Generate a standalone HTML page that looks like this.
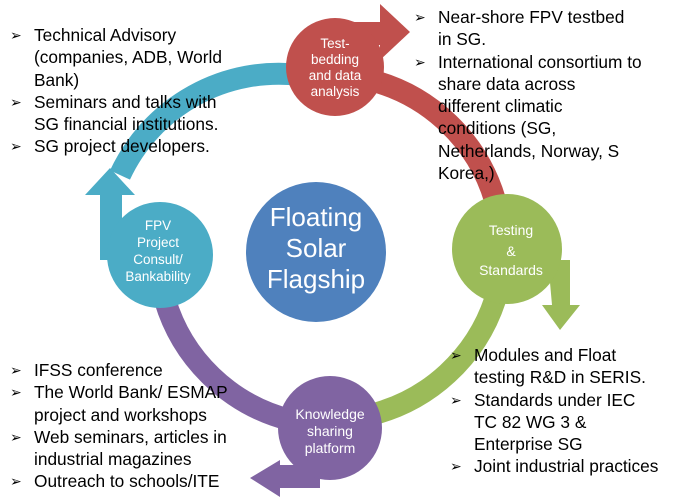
<!DOCTYPE html>
<html><head><style>
body{margin:0;width:677px;height:497px;background:#fff;overflow:hidden;position:relative;font-family:"Liberation Sans",sans-serif}
.t{position:absolute;font-size:17.3px;line-height:22.3px;color:#000;white-space:nowrap}
.t div{padding-left:24px;position:relative}
.t div:before{content:"➢";position:absolute;left:0;font-size:14px}
</style></head><body>
<svg width="677" height="497" style="position:absolute;left:0;top:0">
<g fill="none" stroke-width="22">
<path d="M120,175 A175,175 0 0 1 300,75" stroke="#4bacc6"/>
<path d="M370,80 A175,175 0 0 1 495,200" stroke="#c0504d"/>
<path d="M495,300 A175,175 0 0 1 370,415" stroke="#9bbb59"/>
<path d="M290,420 A175,175 0 0 1 165,300" stroke="#8064a2"/>
</g>
<path d="M340,45 L340,22 L380,22 L380,4 L410,32 L380,60 L380,45 Z" fill="#c0504d"/>
<path d="M548,260 L570,260 L570,305 L580,305 L560,330 L542,305 L552,305 Z" fill="#9bbb59"/>
<path d="M320,465 L320,488 L280,488 L280,497 L250,478 L280,460 L280,465 Z" fill="#8064a2"/>
<path d="M100,260 L100,195 L85,195 L110,168 L135,195 L122,195 L122,260 Z" fill="#4bacc6"/>
<circle cx="335" cy="67" r="49" fill="#c0504d"/>
<circle cx="507" cy="249" r="55" fill="#9bbb59"/>
<circle cx="330" cy="428" r="52" fill="#8064a2"/>
<circle cx="160" cy="255" r="53" fill="#4bacc6"/>
<circle cx="316" cy="252" r="70" fill="#4f81bd"/>
<g fill="#fff" font-family="Liberation Sans,sans-serif" text-anchor="middle">
<text font-size="13.5"><tspan x="335" y="48">Test-</tspan><tspan x="335" y="64">bedding</tspan><tspan x="335" y="80">and data</tspan><tspan x="335" y="96">analysis</tspan></text>
<text font-size="14"><tspan x="511" y="235">Testing</tspan><tspan x="511" y="256">&amp;</tspan><tspan x="511" y="275">Standards</tspan></text>
<text font-size="14"><tspan x="330" y="419">Knowledge</tspan><tspan x="330" y="436">sharing</tspan><tspan x="330" y="453">platform</tspan></text>
<text font-size="13.5"><tspan x="158" y="230">FPV</tspan><tspan x="158" y="247">Project</tspan><tspan x="158" y="264">Consult/</tspan><tspan x="158" y="281">Bankability</tspan></text>
<text font-size="26"><tspan x="316" y="226">Floating</tspan><tspan x="316" y="257">Solar</tspan><tspan x="316" y="288">Flagship</tspan></text>
</g>
</svg>
<div class="t" style="left:10px;top:24px"><div>Technical Advisory<br>(companies, ADB, World<br>Bank)</div><div>Seminars and talks with<br>SG financial institutions.</div><div>SG project developers.</div></div>
<div class="t" style="left:414px;top:6px"><div>Near-shore FPV testbed<br>in SG.</div><div>International consortium to<br>share data across<br>different climatic<br>conditions (SG,<br>Netherlands, Norway, S<br>Korea,)</div></div>
<div class="t" style="left:10px;top:359px"><div>IFSS conference</div><div>The World Bank/ ESMAP<br>project and workshops</div><div>Web seminars, articles in<br>industrial magazines</div><div>Outreach to schools/ITE</div></div>
<div class="t" style="left:450px;top:344px"><div>Modules and Float<br>testing R&amp;D in SERIS.</div><div>Standards under IEC<br>TC 82 WG 3 &amp;<br>Enterprise SG</div><div>Joint industrial practices</div></div>
</body></html>
